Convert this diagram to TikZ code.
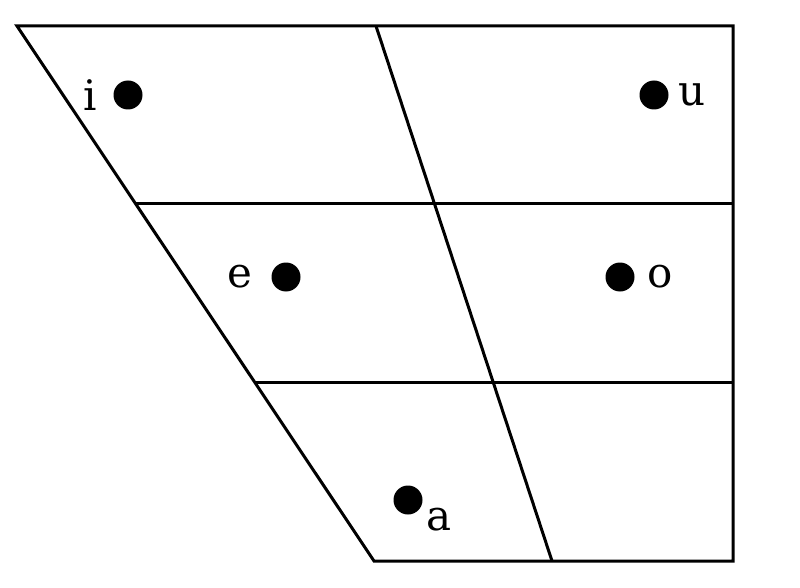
\documentclass[tikz,border=0pt]{standalone}
\usepackage{fontspec}
\setmainfont{DejaVu Serif}
\usetikzlibrary{positioning}
\tikzstyle{chart}=[x=1pt, y=-1pt, line width=3pt, line join=miter, node distance=8pt]
\tikzstyle{vowel}=[circle, inner sep=0pt, fill=black, minimum size=29pt]
\tikzstyle{vlabel}=[inner sep=0pt, font=\fontsize{42}{42}\selectfont]
\tikzstyle{rule}=[-, line width=3pt]

\begin{document}
\begin{tikzpicture}[chart]
	\useasboundingbox (0,0) rectangle (800,588);
	%The outline
	\coordinate (closeFront) at (17,26);
	\coordinate (closeBack) at (733,26);
	\coordinate (openBack) at (733,561);
	\coordinate (openFront) at (374,561);
	\draw[rule] (closeFront) -- (closeBack) -- (openBack) -- (openFront) -- cycle;
	
	%The inner lines
	\coordinate (midFront) at (136,204);
	\coordinate (midBack) at (733,204);
	\coordinate (lowFront) at (255,382);
	\coordinate (lowBack) at (733,382);
	\coordinate (centralTop) at (376,26);
	\coordinate (centralBottom) at (552,561);
	\draw[rule] (midFront) -- (midBack);
	\draw[rule] (lowFront) -- (lowBack);
	\draw[rule] (centralTop) -- (centralBottom);
	
	%The vowels
	\node[vowel] (i) at (128,95) {};
	\node[vowel] (u) at (654,95) {};
	\node[vowel] (e) at (286,277) {};
	\node[vowel] (o) at (620,277) {};
	\node[vowel] (a) at (408,500) {};
	
	\node[vlabel, left=14pt of i] (iLabel) {i};
	\node[vlabel, right=7pt of u] (uLabel) {u};
	\node[vlabel, left=16pt of e] (eLabel) {e};
	\node[vlabel, right=10pt of o] (oLabel) {o};
	\node[vlabel, anchor=north west] (aLabel) at ([xshift=6pt, yshift=5pt]a.south east) {a};
\end{tikzpicture}
\end{document}
